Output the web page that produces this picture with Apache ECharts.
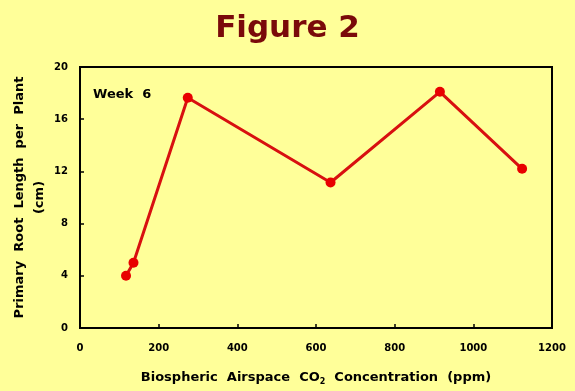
<!DOCTYPE html>
<html><head><meta charset="utf-8">
<script src="https://cdn.jsdelivr.net/npm/echarts@6/dist/echarts.min.js"></script>
<style>html,body{margin:0;padding:0;background:#FFFF99;}#c{width:575px;height:391px;}</style>
</head><body><div id="c"></div>
<script>
const co2 = [117, 136, 274, 637, 915, 1124];
const rootLength = [4.0, 5.0, 17.65, 11.15, 18.1, 12.2];
const xTicks = [0, 200, 400, 600, 800, 1000, 1200];
const yTicks = [0, 4, 8, 12, 16, 20];
const titleText = 'Figure 2';
const seriesLabel = 'Week  6';

const chart = echarts.init(document.getElementById('c'), null, {renderer: 'canvas'});
const F = 'DejaVu Sans';
chart.setOption({
  backgroundColor: '#FFFF99',
  animation: false,
  title: {
    text: titleText, left: 'center', top: 8,
    textStyle: {fontFamily: F, fontWeight: 'bold', fontSize: 31, color: '#7A0A0A'}
  },
  grid: {left: 80, right: 23, top: 67, bottom: 63, show: true, borderColor: '#000', borderWidth: 2,
    backgroundColor: 'transparent', containLabel: false, outerBoundsMode: 'none'},
  xAxis: {
    type: 'value', min: xTicks[0], max: xTicks[xTicks.length - 1], interval: 200,
    name: 'Biospheric  Airspace  CO{sub|2}  Concentration  (ppm)',
    nameLocation: 'middle', nameGap: 42, nameMoveOverlap: false,
    nameTextStyle: {fontFamily: F, fontWeight: 'bold', fontSize: 13, color: '#000',
      rich: {sub: {fontFamily: F, fontWeight: 'bold', fontSize: 8, color: '#000', verticalAlign: 'bottom', padding: [8, 0, 0, 0]}}},
    axisLine: {lineStyle: {color: '#000', width: 2}},
    axisTick: {inside: true, length: 4, lineStyle: {color: '#000', width: 1.5}},
    splitLine: {show: false},
    axisLabel: {margin: 15, fontFamily: F, fontWeight: 'bold', fontSize: 10, color: '#000', formatter: v => String(v)}
  },
  yAxis: {
    type: 'value', min: yTicks[0], max: yTicks[yTicks.length - 1], interval: 4,
    name: 'Primary  Root  Length  per  Plant\n(cm)',
    nameLocation: 'middle', nameGap: 30, nameMoveOverlap: false,
    nameTextStyle: {fontFamily: F, fontWeight: 'bold', fontSize: 13, color: '#000', lineHeight: 20},
    axisLine: {lineStyle: {color: '#000', width: 2}},
    axisTick: {inside: true, length: 4, lineStyle: {color: '#000', width: 1.5}},
    splitLine: {show: false},
    axisLabel: {margin: 12, fontFamily: F, fontWeight: 'bold', fontSize: 10, color: '#000', formatter: v => String(v)}
  },
  graphic: [{
    type: 'text', left: 93, top: 88,
    style: {text: seriesLabel, fontFamily: F, fontWeight: 'bold', fontSize: 13, fill: '#000'}
  }],
  series: [{
    type: 'line',
    data: co2.map((x, i) => [x, rootLength[i]]),
    symbol: 'circle', symbolSize: 10,
    lineStyle: {color: '#D81010', width: 3},
    itemStyle: {color: '#E80000'}
  }]
});
</script></body></html>
